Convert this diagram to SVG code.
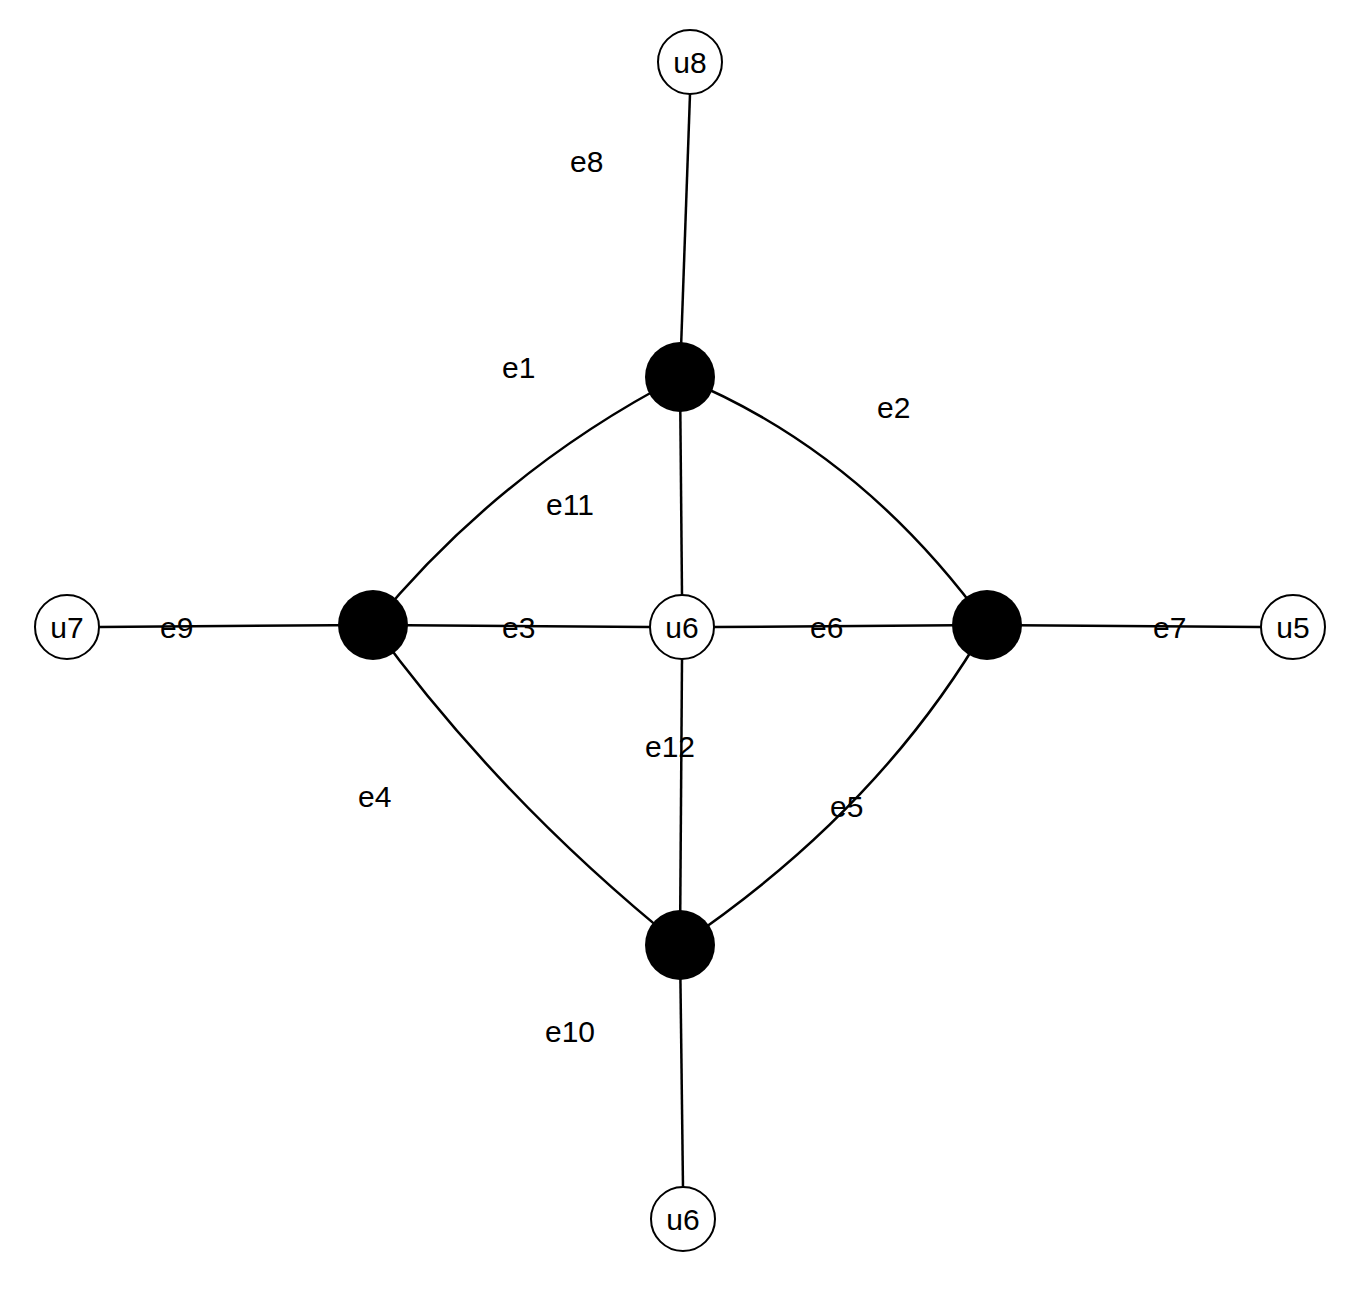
<svg xmlns="http://www.w3.org/2000/svg" width="1356" height="1292" viewBox="0 0 1356 1292">
<style>
.e{fill:none;stroke:#000;stroke-width:2.5}
.w{fill:#fff;stroke:#000;stroke-width:2}
.b{fill:#000}
text{font-family:"Liberation Sans",Arial,sans-serif;font-size:30px;fill:#000}
.n{text-anchor:middle;dominant-baseline:central}
</style>
<rect width="1356" height="1292" fill="#fff"/>
<g id="connectors">
<path class="e" d="M690 94 L680 377"/>
<path class="e" d="M373 625 Q500 470 680 377"/>
<path class="e" d="M680 377 Q860 450 987 625"/>
<path class="e" d="M373 625 Q500 800 680 945"/>
<path class="e" d="M987 625 Q880 810 680 945"/>
<path class="e" d="M99 627 L373 625"/>
<path class="e" d="M373 625 L650 627"/>
<path class="e" d="M714 627 L987 625"/>
<path class="e" d="M987 625 L1261 627"/>
<path class="e" d="M680 377 L682 595"/>
<path class="e" d="M682 659 L680 945"/>
<path class="e" d="M680 945 L683 1187"/>
</g>
<g id="labels">
<text x="570" y="172">e8</text>
<text x="502" y="378">e1</text>
<text x="877" y="418">e2</text>
<text x="546" y="515">e11</text>
<text x="160" y="638">e9</text>
<text x="502" y="638">e3</text>
<text x="810" y="638">e6</text>
<text x="1153" y="638">e7</text>
<text x="645" y="757">e12</text>
<text x="358" y="807">e4</text>
<text x="830" y="817">e5</text>
<text x="545" y="1042">e10</text>
</g>
<g id="u8"><circle class="w" cx="690" cy="62" r="32"/><text class="n" x="690" y="62">u8</text></g>
<g id="top"><circle class="b" cx="680" cy="377" r="35"/></g>
<g id="left"><circle class="b" cx="373" cy="625" r="35"/></g>
<g id="right"><circle class="b" cx="987" cy="625" r="35"/></g>
<g id="bottom"><circle class="b" cx="680" cy="945" r="35"/></g>
<g id="u6c"><circle class="w" cx="682" cy="627" r="32"/><text class="n" x="682" y="627">u6</text></g>
<g id="u7"><circle class="w" cx="67" cy="627" r="32"/><text class="n" x="67" y="627">u7</text></g>
<g id="u5"><circle class="w" cx="1293" cy="627" r="32"/><text class="n" x="1293" y="627">u5</text></g>
<g id="u6b"><circle class="w" cx="683" cy="1219" r="32"/><text class="n" x="683" y="1219">u6</text></g>
</svg>
